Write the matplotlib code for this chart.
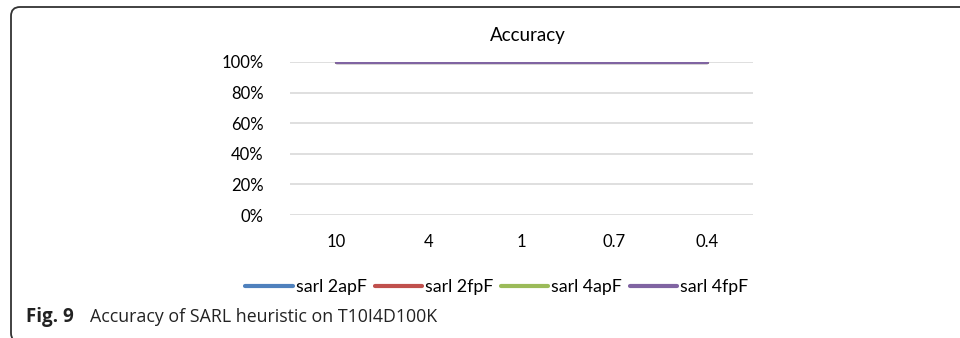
import matplotlib.pyplot as plt
from matplotlib.patches import FancyBboxPatch

plt.rcParams['font.family'] = ['Lato', 'DejaVu Sans']

support = ['10', '4', '1', '0.7', '0.4']
series_names = ['sarl 2apF', 'sarl 2fpF', 'sarl 4apF', 'sarl 4fpF']
accuracy = {
    'sarl 2apF': [1.0, 1.0, 1.0, 1.0, 1.0],
    'sarl 2fpF': [1.0, 1.0, 1.0, 1.0, 1.0],
    'sarl 4apF': [1.0, 1.0, 1.0, 1.0, 1.0],
    'sarl 4fpF': [1.0, 1.0, 1.0, 1.0, 1.0],
}
colors = ['#4F81BD', '#C0504D', '#9BBB59', '#8064A2']


def main():
    fig = plt.figure(figsize=(9.6, 3.38), dpi=100)
    ax = fig.add_axes([290 / 960, 1 - 215 / 338, 463 / 960, 153 / 338])

    x = [i + 0.5 for i in range(len(support))]
    handles = []
    for name, c in zip(series_names, colors):
        h, = ax.plot(x, accuracy[name], color=c, lw=2.3, solid_capstyle='round')
        handles.append(h)

    ax.set_xlim(0, len(support))
    ax.set_ylim(0, 1)
    ax.set_yticks([0, 0.2, 0.4, 0.6, 0.8, 1.0])
    ax.set_yticklabels(['0%', '20%', '40%', '60%', '80%', '100%'])
    ax.set_xticks(x)
    ax.set_xticklabels(support)
    ax.tick_params(length=0, labelsize=12, colors='black')
    ax.tick_params(axis='y', pad=19)
    ax.tick_params(axis='x', pad=14)
    ax.yaxis.grid(True, color='#d9d9d9', lw=1.2)
    ax.set_axisbelow(True)
    for s in ax.spines.values():
        s.set_visible(False)

    fig.text(528 / 960, 1 - 36 / 338, 'Accuracy', ha='center', va='center', fontsize=13.5)

    leg = fig.legend(handles, series_names, loc='center', bbox_to_anchor=(497 / 960, 1 - 287 / 338),
                     ncol=4, frameon=False, fontsize=12.8, handlelength=2.65, handletextpad=0.17,
                     columnspacing=0.45, borderpad=0)
    for line in leg.get_lines():
        line.set_linewidth(3.0)
        line.set_solid_capstyle('round')

    # rounded frame in inches; right and bottom edges fall outside the canvas
    frame = FancyBboxPatch((0.11, -0.04), 10.0, 3.38 - 0.07 + 0.04,
                           boxstyle='round,pad=0,rounding_size=0.09',
                           transform=fig.dpi_scale_trans, fill=False, ec='#333333', lw=1.3)
    fig.patches.append(frame)

    cap_font = ['Open Sans', 'DejaVu Sans']
    fig.text(26 / 960, 1 - 317 / 338, 'Fig. 9', fontsize=13.5, fontweight='bold',
             family=cap_font, va='center', ha='left', color='#222222')
    fig.text(90 / 960, 1 - 317 / 338, 'Accuracy of SARL heuristic on T10I4D100K',
             fontsize=12.8, family=cap_font, va='center', ha='left', color='#222222')

    fig.savefig('out.png', dpi=100)


if __name__ == '__main__':
    main()
